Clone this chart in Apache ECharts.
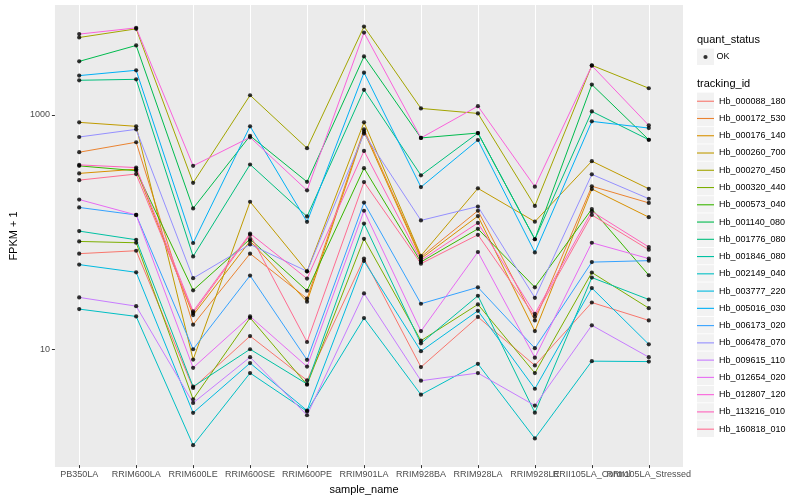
<!DOCTYPE html>
<html><head><meta charset="utf-8">
<script src="https://cdn.jsdelivr.net/npm/echarts@6/dist/echarts.min.js"></script>
<style>html,body{margin:0;padding:0;background:#fff}#main{width:800px;height:500px}</style>
</head><body><div id="main"></div>
<script>
const categories = ['PB350LA','RRIM600LA','RRIM600LE','RRIM600SE','RRIM600PE','RRIM901LA','RRIM928BA','RRIM928LA','RRIM928LE','RRII105LA_Control','RRII105LA_Stressed'];

const Hb_000088_180 = [64.4, 68.2, 4.57, 12.7, 5.31, 58.4, 6.89, 18.5, 7.12, 24.6, 17.3];
const Hb_000172_530 = [475, 578, 15.9, 64.4, 26.6, 745, 60.3, 150, 17.3, 243, 175];
const Hb_000176_140 = [313, 340, 19.2, 82.6, 25, 713, 58.4, 135, 14, 230, 132];
const Hb_000260_700 = [855, 791, 8.0, 179, 45.5, 855, 61.8, 233, 121, 398, 231];
const Hb_000270_450 = [4550, 5395, 260, 1459, 514, 5640, 1125, 1020, 165, 2630, 1675];
const Hb_000320_440 = [81.9, 79.8, 3.66, 18.2, 4.87, 86.3, 11.6, 23.7, 6.13, 44.4, 22];
const Hb_000573_040 = [363, 330, 31.3, 85.8, 31, 347, 54.7, 105, 33.2, 155, 42.1];
const Hb_001140_080 = [2843, 3890, 157, 656, 265, 3134, 629, 693, 85.5, 1800, 607];
const Hb_001776_080 = [1959, 1996, 61, 373, 134, 1622, 301, 693, 85.5, 1061, 607];
const Hb_001846_080 = [100.4, 84.7, 4.69, 9.8, 4.94, 116.5, 11.0, 28.1, 2.81, 40.2, 26.1];
const Hb_002149_040 = [21.6, 18.7, 1.48, 6.13, 2.88, 18.1, 4.0, 7.35, 1.69, 7.75, 7.68];
const Hb_003777_220 = [51.9, 44.6, 2.80, 7.46, 2.93, 55.7, 9.43, 20.9, 4.5, 32.7, 10.8];
const Hb_005016_030 = [2148, 2384, 79.4, 791, 120.5, 2277, 239, 604, 66, 872, 764];
const Hb_006173_020 = [160, 138, 9.8, 41.8, 7.95, 176, 24, 33.2, 10, 54.5, 56.1];
const Hb_006478_070 = [641, 745, 39.7, 77.2, 45.5, 685, 124, 163, 27, 307, 190];
const Hb_009615_110 = [27.2, 22.9, 3.40, 8.38, 2.67, 29.4, 5.27, 6.13, 3.23, 15.7, 8.38];
const Hb_012654_020 = [187, 138, 6.8, 18.7, 6.96, 150, 14, 66.5, 8.3, 79.8, 58.4];
const Hb_012807_120 = [4864, 5500, 363, 637, 224, 5012, 629, 1177, 241, 2612, 806];
const Hb_113216_010 = [370, 351, 20.7, 95.8, 39.4, 487, 56.4, 118, 19.7, 148, 73.4];
const Hb_160818_010 = [274, 309, 20, 93.4, 11.3, 264, 52.9, 93.4, 18.7, 138, 69.6];

const trackingIds = ['Hb_000088_180','Hb_000172_530','Hb_000176_140','Hb_000260_700','Hb_000270_450','Hb_000320_440','Hb_000573_040','Hb_001140_080','Hb_001776_080','Hb_001846_080','Hb_002149_040','Hb_003777_220','Hb_005016_030','Hb_006173_020','Hb_006478_070','Hb_009615_110','Hb_012654_020','Hb_012807_120','Hb_113216_010','Hb_160818_010'];
const seriesValues = [Hb_000088_180, Hb_000172_530, Hb_000176_140, Hb_000260_700, Hb_000270_450, Hb_000320_440, Hb_000573_040, Hb_001140_080, Hb_001776_080, Hb_001846_080, Hb_002149_040, Hb_003777_220, Hb_005016_030, Hb_006173_020, Hb_006478_070, Hb_009615_110, Hb_012654_020, Hb_012807_120, Hb_113216_010, Hb_160818_010];
const colors = ['#F8766D','#EA8331','#D89000','#C09B00','#A3A500','#7CAE00','#39B600','#00BB4E','#00BF7D','#00C1A3','#00BFC4','#00BAE0','#00B0F6','#35A2FF','#9590FF','#C77CFF','#E76BF3','#FA62DB','#FF62BC','#FF6C91'];
const yTickLabels = [10, 1000];
const statusLevels = ['OK'];

const FONT = '"Liberation Sans", Arial, sans-serif';
const chart = echarts.init(document.getElementById('main'));

const lineSeries = trackingIds.map((id, k) => ({
  name: id, type: 'line', xAxisIndex: 1, yAxisIndex: 1,
  data: seriesValues[k], showSymbol: false, symbol: 'none',
  lineStyle: { width: 1, color: colors[k] }, itemStyle: { color: colors[k] },
  emphasis: { disabled: true }, silent: true, z: 2, animation: false
}));
const pointData = [];
seriesValues.forEach(vals => vals.forEach((v, i) => pointData.push([categories[i], v])));
const okSeries = {
  name: statusLevels[0], type: 'scatter', xAxisIndex: 1, yAxisIndex: 1,
  data: pointData, symbolSize: 4.2, itemStyle: { color: '#000' }, z: 3, silent: true, animation: false
};

const keyRects = [{ type: 'rect', shape: { x: 697, y: 48.5, width: 17, height: 16.5 }, style: { fill: '#F2F2F2' }, z: 0 }];
trackingIds.forEach((id, i) => keyRects.push({
  type: 'rect', shape: { x: 697, y: 92.6 + i * 17.26, width: 17, height: 16.4 }, style: { fill: '#F2F2F2' }, z: 0
}));

const YMIN = 1, YMAX = 8630;

chart.setOption({
  animation: false,
  textStyle: { fontFamily: FONT },
  title: [
    { text: 'quant_status', left: 697, top: 34, padding: 0, textStyle: { fontSize: 11, fontWeight: 'normal', color: '#000', fontFamily: FONT } },
    { text: 'tracking_id', left: 697, top: 78, padding: 0, textStyle: { fontSize: 11, fontWeight: 'normal', color: '#000', fontFamily: FONT } }
  ],
  graphic: keyRects,
  legend: [
    { orient: 'vertical', left: 703.4, top: 51, padding: 0, itemWidth: 4.2, itemHeight: 4.2, icon: 'circle',
      data: statusLevels, selectedMode: false,
      textStyle: { fontSize: 9, color: '#000', lineHeight: 12, padding: [0, 0, 0, 4], fontFamily: FONT } },
    { orient: 'vertical', left: 697, top: 92.6, padding: 0, itemWidth: 17, itemHeight: 1.1, itemGap: 0, icon: 'rect',
      data: trackingIds, selectedMode: false, textStyle: { fontSize: 9, color: '#000', lineHeight: 17.26, fontFamily: FONT } }
  ],
  grid: [
    { left: 45, right: 117, top: 5, bottom: 33, show: true, backgroundColor: '#EBEBEB', borderWidth: 0, containLabel: false },
    { left: 79.2, right: 151.2, top: 5, bottom: 33, show: false, containLabel: false }
  ],
  xAxis: [
    { gridIndex: 0, type: 'value', min: 0, max: 1, show: false },
    { gridIndex: 1, type: 'category', data: categories, boundaryGap: false,
      axisLine: { show: false },
      axisTick: { show: true, length: 3, lineStyle: { color: '#333333', width: 1 } },
      axisLabel: { interval: 0, fontSize: 9, color: '#4D4D4D', margin: 5, fontFamily: FONT, hideOverlap: false },
      splitLine: { show: true, lineStyle: { color: '#FFFFFF', width: 1 } },
      name: 'sample_name', nameLocation: 'middle', nameGap: 15,
      nameTextStyle: { fontSize: 11, color: '#000', fontFamily: FONT } }
  ],
  yAxis: [
    { gridIndex: 0, type: 'log', logBase: 10, min: YMIN, max: YMAX,
      axisLine: { show: false },
      axisTick: { show: true, length: 3, customValues: yTickLabels, lineStyle: { color: '#333333', width: 1 } },
      axisLabel: { customValues: yTickLabels, fontSize: 9, color: '#4D4D4D', margin: 5, fontFamily: FONT,
        formatter: v => String(Math.round(v)) },
      splitLine: { show: true, showMinLine: false, showMaxLine: false, lineStyle: { color: '#FFFFFF', width: 1 } },
      name: 'FPKM + 1', nameLocation: 'middle', nameGap: 28,
      nameTextStyle: { fontSize: 11, color: '#000', fontFamily: FONT } },
    { gridIndex: 1, type: 'log', logBase: 10, min: YMIN, max: YMAX, show: false, splitLine: { show: false } }
  ],
  series: [...lineSeries, okSeries]
});
</script>
</body></html>
